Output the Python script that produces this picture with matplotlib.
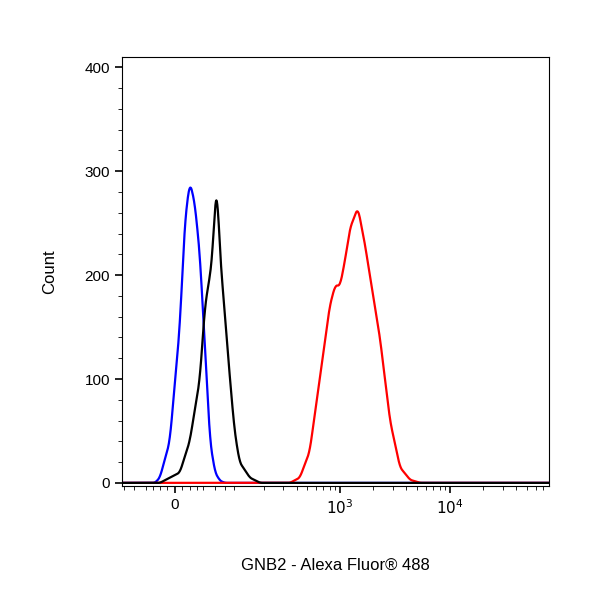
import numpy as np
import matplotlib
matplotlib.use("Agg")
import matplotlib.pyplot as plt

plt.rcParams['font.family'] = ['Liberation Sans', 'DejaVu Sans']

W = 63.0  # linear width of the biexponential-like axis

# blue: isotype / unstained
blue_x = [-85, -27, -20, -6.6, 6.6, 13.3, 20, 27, 34.6, 42.4, 50.8, 59.6, 69, 79, 79000]
blue_y = [0, 0, 5, 40, 150, 250, 290, 270, 220, 130, 40, 10, 2, 0, 0]
# black: control
black_x = [-85, -20, 6.6, 20, 34.6, 42.4, 50.8, 55, 59.6, 63.4, 69, 79, 90, 101, 114, 145, 183, 79000]
black_y = [0, 0, 10, 40, 100, 170, 200, 220, 270, 285, 220, 160, 100, 50, 20, 5, 0, 0]
# red: GNB2 stained
red_x = [-85, 347, 428, 527, 651, 803, 900, 1000, 1110, 1228, 1450, 1680, 1860, 2300, 2840, 3500, 4320, 5330, 79000]
red_y = [0, 0, 5, 30, 100, 170, 190, 190, 215, 245, 265, 230, 200, 140, 60, 15, 3, 0, 0]


def fwd(x):
    return np.arcsinh(np.asarray(x) / W)


def inv(y):
    return W * np.sinh(np.asarray(y))


def dense(xs, ys, n=900, k=9):
    # smooth path in display space so the curve looks continuous
    t = fwd(xs)
    tt = np.linspace(t.min(), t.max(), n)
    yy = np.interp(tt, t, ys)
    ker = np.ones(k) / k
    yy = np.convolve(np.pad(yy, k // 2, mode='edge'), ker, mode='valid')
    return inv(tt), yy


fig = plt.figure(figsize=(6, 6), dpi=100)
ax = fig.add_axes([0.203, 0.19, 0.712, 0.715])
ax.set_xscale('function', functions=(fwd, inv))

for xs, ys, c in [(blue_x, blue_y, 'blue'), (red_x, red_y, 'red'), (black_x, black_y, 'black')]:
    dx, dy = dense(xs, ys)
    ax.plot(dx, dy, color=c, lw=1.6)

ax.set_xlim(-85, 79000)
ax.set_ylim(-3, 410)

ax.set_xticks([0, 1000, 10000])
ax.set_xticklabels(['0', r'$10^3$', r'$10^4$'])
minor = [-80, -60, -40, -30, -20, -10, 10, 20, 30, 40, 60, 80,
         100, 200, 300, 400, 500, 600, 700, 800, 900,
         2000, 3000, 4000, 5000, 6000, 7000, 8000, 9000,
         20000, 30000, 40000, 50000, 60000, 70000]
ax.set_xticks(minor, minor=True)
ax.set_yticks([0, 100, 200, 300, 400])
ax.set_yticks(np.arange(0, 411, 20), minor=True)
ax.tick_params(direction='out', length=5, width=1.2, labelsize=11)
ax.tick_params(which='minor', direction='out', length=3)

ax.set_xlabel('GNB2 - Alexa Fluor® 488', fontsize=12, labelpad=30)
ax.set_ylabel('Count', fontsize=12, labelpad=20)

fig.savefig('out.png', dpi=100)
